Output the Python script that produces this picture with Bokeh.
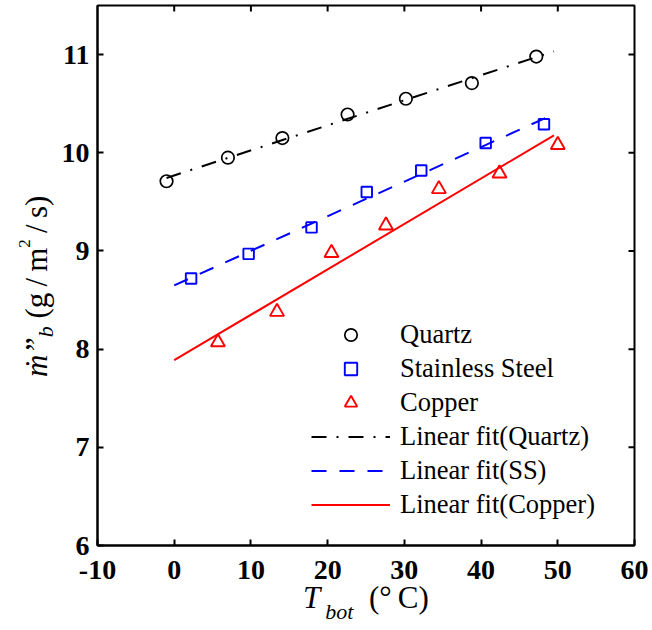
import numpy as np
from bokeh.plotting import figure
from bokeh.models import Legend, LegendItem, Range1d, FixedTicker, Div
from bokeh.layouts import column
from bokeh.embed import file_html
from bokeh.resources import INLINE

# Measured blowing mass flux vs. bottom temperature for three substrates
quartz_t = [-1.0, 7.0, 14.1, 22.6, 30.2, 38.8, 47.2]
quartz_m = [9.71, 9.95, 10.15, 10.39, 10.55, 10.71, 10.98]
ss_t = [2.2, 9.7, 17.9, 25.1, 32.2, 40.6, 48.2]
ss_m = [8.72, 8.97, 9.24, 9.60, 9.82, 10.10, 10.29]
cu_t = [5.7, 13.4, 20.5, 27.6, 34.5, 42.4, 50.0]
cu_m = [8.07, 8.38, 8.98, 9.26, 9.63, 9.79, 10.08]

# x-extent of each linear fit line (Quartz, SS, Copper)
fit_start = [-1.0, 0.0, 0.0]
fit_end = [49.5, 49.5, 49.5]

x_min, x_max = -10, 60
y_min, y_max = 6, 11.5
x_ticks = [-10, 0, 10, 20, 30, 40, 50, 60]
y_ticks = [6, 7, 8, 9, 10, 11]

FONT = "Liberation Serif"
W, H = 652, 630

p = figure(width=W, height=H, x_range=Range1d(x_min, x_max), y_range=Range1d(y_min, y_max),
           output_backend="svg", toolbar_location=None,
           min_border_left=97, min_border_right=18, min_border_top=5, min_border_bottom=85)
p.grid.visible = False
p.outline_line_color = "black"
p.outline_line_width = 2
p.background_fill_color = "white"
p.border_fill_color = "white"

for ax, ticks in ((p.xaxis[0], x_ticks), (p.yaxis[0], y_ticks)):
    ax.ticker = FixedTicker(ticks=ticks)
    ax.major_tick_in = 6
    ax.major_tick_out = 0
    ax.minor_tick_line_color = None
    ax.major_tick_line_width = 2
    ax.major_tick_line_color = "black"
    ax.axis_line_width = 2
    ax.axis_line_color = "black"
    ax.major_label_text_font = FONT
    ax.major_label_text_font_style = "bold"
    ax.major_label_text_font_size = "28px"
    ax.major_label_text_color = "black"
p.xaxis.major_label_standoff = 15
p.yaxis.major_label_standoff = 8
p.xaxis.major_label_overrides = {t: str(t) for t in x_ticks}

# Inward ticks on the top and right frame edges (half of each dash is clipped by the frame)
inner_x = x_ticks[1:-1]
inner_y = y_ticks[1:]
p.scatter(inner_x, [y_max] * len(inner_x), marker="dash", angle=np.pi / 2, size=12,
          line_color="black", line_width=2)
p.scatter([x_max] * len(inner_y), inner_y, marker="dash", size=12,
          line_color="black", line_width=2)

# Linear fits
fits = []
series = [(quartz_t, quartz_m), (ss_t, ss_m), (cu_t, cu_m)]
for (t, m), t0, t1 in zip(series, fit_start, fit_end):
    coef = np.polyfit(t, m, 1)
    xs = [t0, t1]
    fits.append((xs, list(np.polyval(coef, xs))))

lq = p.line(fits[0][0], fits[0][1], line_color="black", line_width=2, line_dash="15 10 2 10")
ls = p.line(fits[1][0], fits[1][1], line_color="blue", line_width=2, line_dash="15 13")
lc = p.line(fits[2][0], fits[2][1], line_color="red", line_width=2)

# Measurements
rq = p.scatter(quartz_t, quartz_m, marker="circle", size=12.5, fill_color=None,
               line_color="black", line_width=1.7)
rs = p.scatter(ss_t, ss_m, marker="square", size=10.5, fill_color=None,
               line_color="blue", line_width=1.9)
rc = p.scatter(cu_t, cu_m, marker="triangle", size=14, fill_color=None,
               line_color="red", line_width=1.9)

legend = Legend(items=[
    LegendItem(label="Quartz", renderers=[rq]),
    LegendItem(label="Stainless Steel", renderers=[rs]),
    LegendItem(label="Copper", renderers=[rc]),
    LegendItem(label="Linear fit(Quartz)", renderers=[lq]),
    LegendItem(label="Linear fit(SS)", renderers=[ls]),
    LegendItem(label="Linear fit(Copper)", renderers=[lc]),
], location=(214, 25), glyph_width=79, glyph_height=31, label_height=31,
    spacing=3, padding=0, margin=0, label_standoff=10,
    border_line_alpha=0, background_fill_alpha=0,
    label_text_font=FONT, label_text_font_size="26.5px", label_text_color="black")
p.add_layout(legend)

# Axis titles with sub/superscripts, laid over the plot borders as HTML text.
# With line-height 0 the baseline sits 0.3375*size below the box top (Liberation Serif).
BASE = 0.3375


def title_block(left_px, baseline_px, size, inner, rotate=False):
    if rotate:
        # rotated about its top-left corner: reads bottom to top, baseline on the right
        pos = f"left:{left_px - BASE * size:.1f}px;top:{baseline_px}px;" \
              "transform:rotate(-90deg);transform-origin:0 0;"
    else:
        pos = f"left:{left_px}px;top:{baseline_px - BASE * size:.1f}px;"
    return (f'<div style="position:absolute;{pos}line-height:0;white-space:nowrap;'
            f"font-family:'{FONT}';font-size:{size}px;color:black;\">{inner}</div>")


x_title = ('<i>T</i><i style="font-size:22px;position:relative;top:11px;margin-left:5px">bot</i>'
           '&nbsp;&nbsp;(°&thinsp;C)')
y_title = ('<i>ṁ”</i><i style="font-size:22px;position:relative;top:6px">b</i>'
           '&nbsp;(g&thinsp;/&thinsp;m<span style="font-size:17px;position:relative;top:-17px">2</span>'
           '&thinsp;/&thinsp;s)')

overlay_html = (f'<div style="position:relative;width:{W}px;height:{H}px;">'
                + title_block(303, 608, 31, x_title)
                + title_block(47, 377, 31, y_title, rotate=True)
                + '</div>')

overlay = Div(text=overlay_html, width=W, height=H, margin=(-H, 0, 0, 0),
              styles={"overflow": "visible", "pointer-events": "none"})

page = column(p, overlay, spacing=0)
open("out.html", "w").write(file_html(page, INLINE))
